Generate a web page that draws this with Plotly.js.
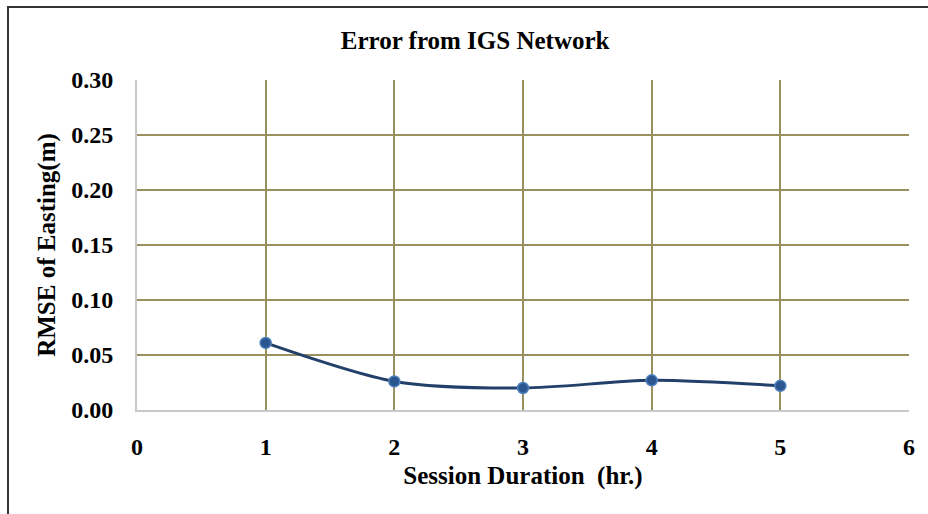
<!DOCTYPE html>
<html><head><meta charset="utf-8">
<script src="https://cdn.plot.ly/plotly-3.0.1.min.js"></script>
<style>
html,body{margin:0;padding:0;background:#fff;}
#wrap{position:relative;width:928px;height:514px;}
#chart{position:absolute;left:0;top:0;width:928px;height:514px;}
#frame{position:absolute;left:7px;top:6px;width:940px;height:540px;border:2px solid #333;pointer-events:none;}
</style></head>
<body><div id="wrap"><div id="chart"></div><div id="frame"></div></div>
<script>
const sessionHours = [1, 2, 3, 4, 5];
const rmseEasting = [0.061, 0.026, 0.020, 0.027, 0.022];
const xTicks = [0, 1, 2, 3, 4, 5, 6];
const yTicks = [0, 0.05, 0.10, 0.15, 0.20, 0.25, 0.30];
const font = 'Liberation Serif, Times New Roman, serif';
Plotly.newPlot('chart', [{
  x: sessionHours, y: rmseEasting, type: 'scatter', mode: 'lines+markers',
  line: {shape: 'spline', smoothing: 0.8, color: '#22406a', width: 3},
  marker: {size: 11, color: '#2b5690', line: {color: '#4f81bd', width: 1.5}},
  hoverinfo: 'none'
}], {
  width: 928, height: 514,
  margin: {l: 137, r: 19, t: 80, b: 104},
  paper_bgcolor: '#fff', plot_bgcolor: '#fff',
  showlegend: false,
  title: {text: '<b>Error from IGS Network</b>', font: {family: font, size: 25, color: '#000'}, x: 0.512, xanchor: 'center', y: 0.922, yanchor: 'middle'},
  xaxis: {
    range: [0, 6], tickvals: xTicks, ticktext: xTicks.map(String),
    showgrid: true, gridcolor: '#9a905f', gridwidth: 2,
    zeroline: false, showline: true, linecolor: '#c8c8c8', linewidth: 2,
    ticks: '', ticklabelstandoff: 14,
    tickfont: {family: font, size: 24, color: '#000', weight: 'bold'},
    title: {text: '<b>Session Duration  (hr.)</b>', font: {family: font, size: 25, color: '#000'}, standoff: 8}
  },
  yaxis: {
    range: [0, 0.3], tickvals: yTicks, ticktext: yTicks.map(v => v.toFixed(2)),
    showgrid: true, gridcolor: '#9a905f', gridwidth: 2,
    zeroline: true, zerolinecolor: '#c8c8c8', zerolinewidth: 2,
    showline: true, linecolor: '#c8c8c8', linewidth: 2,
    ticks: '', ticklabelstandoff: 17,
    tickfont: {family: font, size: 24, color: '#000', weight: 'bold'},
    title: {text: '<b>RMSE of Easting(m)</b>', font: {family: font, size: 25, color: '#000'}, standoff: 8}
  }
}, {displayModeBar: false, staticPlot: true});
</script></body></html>
